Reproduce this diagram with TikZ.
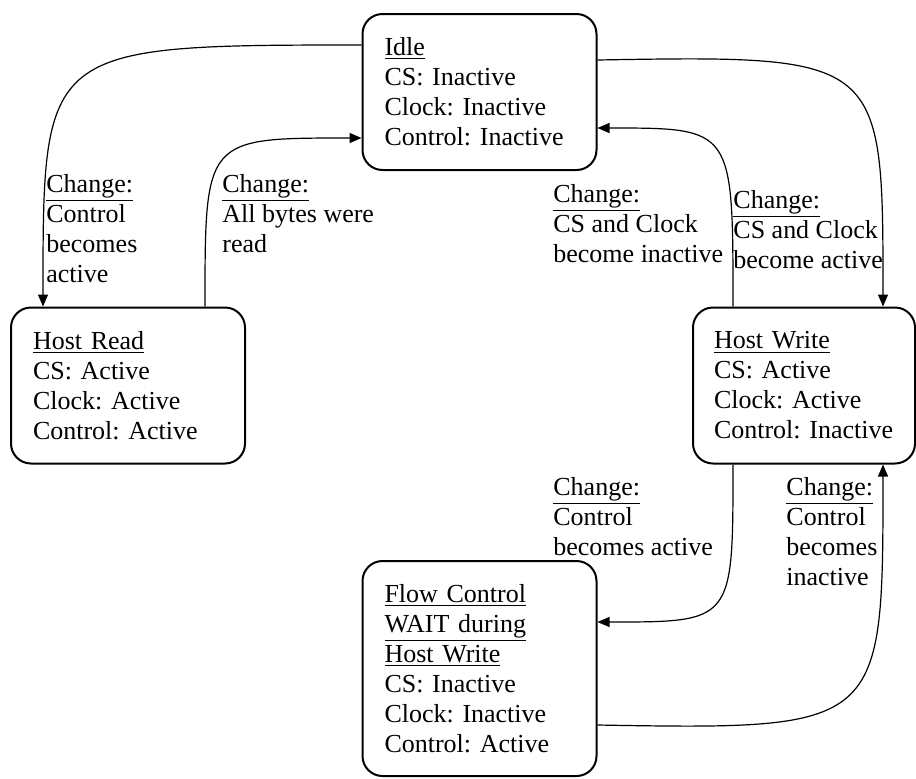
\documentclass[tikz,border=0pt]{standalone}
\usepackage{fontspec}
\setmainfont{Liberation Serif}
\usetikzlibrary{arrows.meta}
\frenchspacing
\hyphenpenalty=10000

\begin{document}
\begin{tikzpicture}[x=0.5pt,y=-0.5pt]
% Styles
\tikzstyle{transition}=[->,>={Triangle[length=6pt,width=5pt]},line width=0.6pt]
\tikzstyle{etat}=[draw,line width=1pt,rounded corners=10pt,align=left,inner xsep=11pt,
  text width=95pt,font=\fontsize{13}{15}\selectfont]
\tikzstyle{cond}=[anchor=north west,inner sep=0pt,align=left,font=\fontsize{13}{15}\selectfont]
% Dimensions
\def\HauteurEtat{78pt}
\useasboundingbox (0,0) rectangle (916,778);
% States
\node[etat,minimum height=\HauteurEtat] (Idle) at (479.5,92)
  {\underline{Idle}\\CS: Inactive\\Clock: Inactive\\Control: Inactive};
\node[etat,minimum height=\HauteurEtat] (HostRead) at (128,385.5)
  {\underline{Host Read}\\CS: Active\\Clock: Active\\Control: Active};
\node[etat,minimum height=\HauteurEtat,text width=90pt,inner xsep=10.5pt] (HostWrite) at (804,385.5)
  {\underline{Host Write}\\CS: Active\\Clock: Active\\Control: Inactive};
\node[etat,minimum height=107.5pt] (FlowWait) at (479.5,668.5)
  {\underline{Flow Control}\\\underline{WAIT during}\\\underline{Host Write}\\CS: Inactive\\Clock: Inactive\\Control: Active};
% Conditions
\node[cond] (cReadStart) at (46,174) {\underline{Change:}\\Control\\becomes\\active};
\node[cond] (cReadEnd) at (222,174) {\underline{Change:}\\All bytes were\\read};
\node[cond] (cWriteEnd) at (553,184) {\underline{Change:}\\CS and Clock\\become inactive};
\node[cond] (cWriteStart) at (733,190) {\underline{Change:}\\CS and Clock\\become active};
\node[cond] (cWaitStart) at (553,477) {\underline{Change:}\\Control\\becomes active};
\node[cond] (cWaitEnd) at (786,477) {\underline{Change:}\\Control\\becomes\\inactive};
% Transitions
\draw[transition] ([yshift=23.5pt]Idle.west) .. controls +(-319,0) and +(0,-260) .. ([xshift=-42.5pt]HostRead.north);
\draw[transition] ([xshift=38.5pt]HostRead.north) .. controls +(0,-169) and +(-157,0) .. ([yshift=-23pt]Idle.west);
\draw[transition] ([yshift=16pt]Idle.east) .. controls +(286,-5) and +(0,-250) .. ([xshift=39.5pt]HostWrite.north);
\draw[transition] ([xshift=-35.5pt]HostWrite.north) .. controls +(0,-179) and +(136,0) .. ([yshift=-18pt]Idle.east);
\draw[transition] ([xshift=-35.5pt]HostWrite.south) .. controls +(0,158) and +(136,0) .. ([yshift=23.25pt]FlowWait.east);
\draw[transition] ([yshift=-28.25pt]FlowWait.east) .. controls +(286,5) and +(0,264) .. ([xshift=39.5pt]HostWrite.south);
\end{tikzpicture}
\end{document}
